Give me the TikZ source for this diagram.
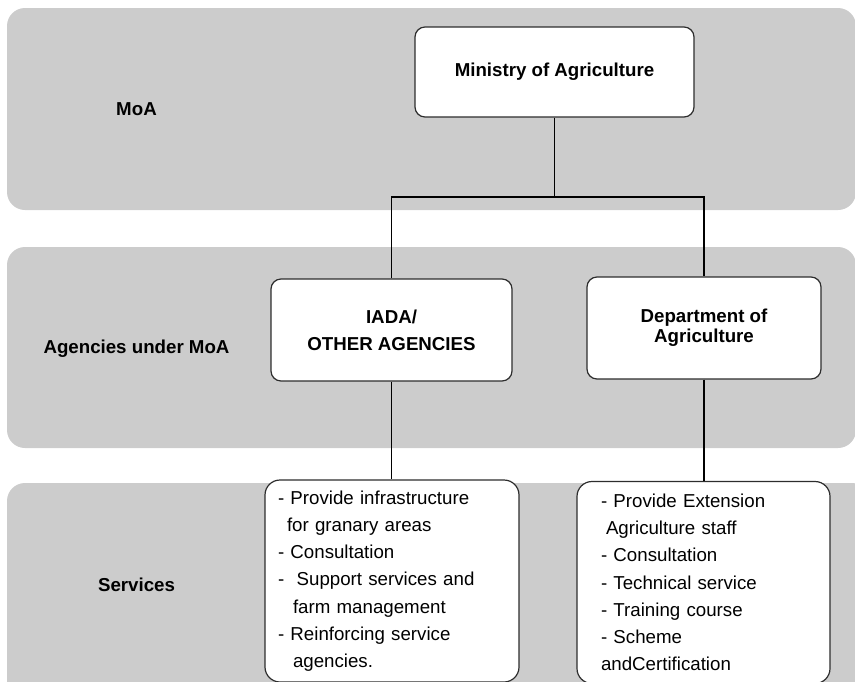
\documentclass[tikz,border=0pt]{standalone}
\usepackage{fontspec}
\setmainfont{Liberation Sans}
\definecolor{bandgray}{RGB}{204,204,204}
\definecolor{boxline}{RGB}{45,45,45}
\begin{document}
\begin{tikzpicture}[x=1pt, y=-1pt,
		band/.style={fill=bandgray, rounded corners=18pt},
		lvl/.style={anchor=base, font=\fontsize{18.7}{22}\selectfont\bfseries},
		unit/.style={draw=boxline, line width=1.2pt, fill=white, rounded corners=10pt,
			align=center, font=\fontsize{18.7}{27}\selectfont\bfseries},
		svc/.style={draw=boxline, line width=1.2pt, fill=white, rounded corners=15pt,
			align=left, minimum height=202pt, font=\fontsize{18.7}{27.2}\selectfont},
		link/.style={line width=1.6pt}]
	\useasboundingbox (0,0) rectangle (855,681);
	\clip (0,0) rectangle (855,681);
	\fill[band] (7,8) rectangle (856,210);
	\fill[band] (7,247) rectangle (856,448);
	\fill[band] (7,483) rectangle (870,700);
	\node[lvl] (moalbl) at (136.5,115) {MoA};
	\node[lvl] (agnlbl) at (136.5,353) {Agencies under MoA};
	\node[lvl] (svclbl) at (136.5,591) {Services};
	\node[unit, minimum width=279pt, minimum height=90pt] (moa) at (554.5,72) {Ministry of Agriculture};
	\node[unit, minimum width=241pt, minimum height=102pt] (iada) at (391.5,330) {IADA/\\OTHER AGENCIES};
	\node[unit, minimum width=234pt, minimum height=102pt,
		font=\fontsize{18.7}{20}\selectfont\bfseries] (doa) at (704,328) {Department of\\Agriculture};
	\node[svc, text width=228pt, inner xsep=13pt] (iadasvc) at (392,581)
		{- Provide infrastructure\\
		\hspace*{9pt}for granary areas\\
		- Consultation\\
		- \ Support services and\\
		\hspace*{15pt}farm management\\
		- Reinforcing service\\
		\hspace*{15pt}agencies.};
	\node[svc, text width=205pt, inner xsep=24pt] (doasvc) at (703.5,582.5)
		{- Provide Extension\\
		\hspace*{5pt}Agriculture staff\\
		- Consultation\\
		- Technical service\\
		- Training course\\
		- Scheme\\
		andCertification};
	\coordinate (split) at (moa.south |- 0,197);
	\draw[link] (moa.south) -- (split);
	\draw[link] (iada.north) |- (split) -| (doa.north);
	\draw[link] (iada.south) -- (iada.south |- iadasvc.north);
	\draw[link] (doa.south) -- (doa.south |- doasvc.north);
\end{tikzpicture}
\end{document}
